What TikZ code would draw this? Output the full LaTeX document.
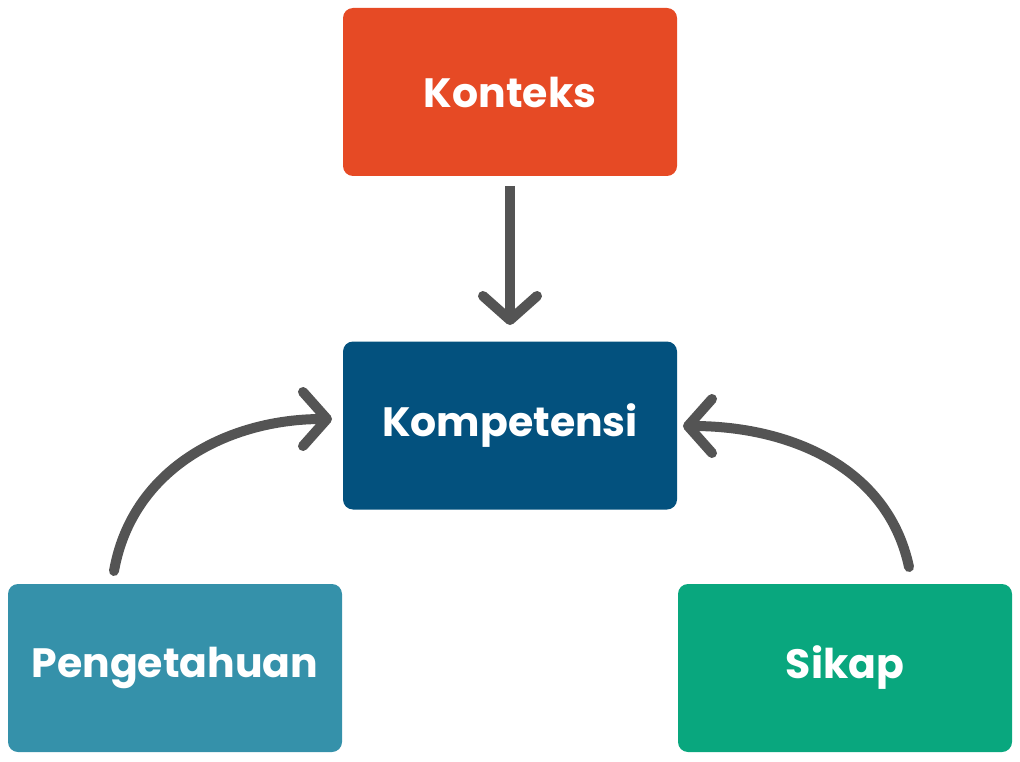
\documentclass[tikz,border=0pt]{standalone}
\usepackage{fontspec}
\setmainfont{Poppins}
\usetikzlibrary{arrows.meta}
\definecolor{cKonteks}{HTML}{E64A25}
\definecolor{cKomp}{HTML}{03517E}
\definecolor{cPeng}{HTML}{3591AA}
\definecolor{cSikap}{HTML}{09A77E}
\definecolor{cArrow}{HTML}{545454}
\begin{document}
\begin{tikzpicture}[x=1pt,y=-1pt,
  box/.style={rounded corners=10pt, minimum width=334pt, minimum height=168pt, inner sep=0pt, text=white, font=\fontsize{41}{48}\selectfont\bfseries},
  conn/.style={draw=cArrow, line width=10pt, -{Straight Barb[length=24pt,width=54pt,round]}},
]
\useasboundingbox (0,0) rectangle (1020,762);
\node[box, fill=cKonteks] (konteks) at (510,92) {Konteks};
\node[box, fill=cKomp] (komp) at (510,425.5) {Kompetensi};
\node[box, fill=cPeng] (peng) at (175,668) {Pengetahuan};
\node[box, fill=cSikap] (sikap) at (845,668) {Sikap};
\coordinate (vstart) at (510,186);
\coordinate (vend) at (510,325);
\coordinate (lstart) at (114,571);
\coordinate (lend) at (332,419);
\coordinate (rstart) at (909,567);
\coordinate (rend) at (683,426);
\draw[conn] (vstart) -- (vend);
\draw[conn, line cap=round] (lstart) to[out=80, in=180] (lend);
\draw[conn, line cap=round] (rstart) to[out=102, in=0] (rend);
\end{tikzpicture}
\end{document}
